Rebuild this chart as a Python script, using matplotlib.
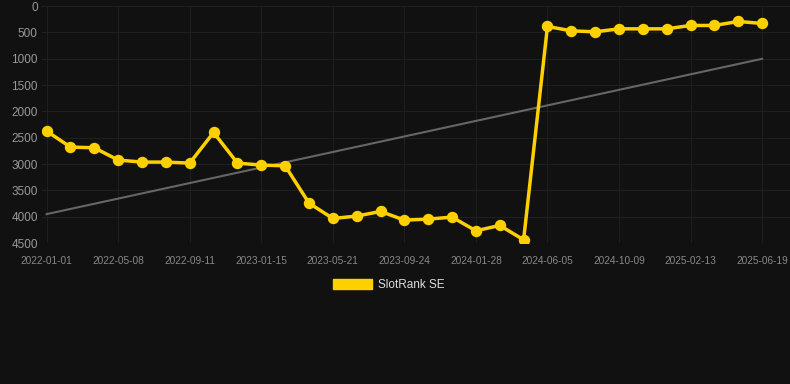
#SlotRank SE ranking over time
import numpy as np
import matplotlib.pyplot as plt
from matplotlib.patches import Patch

plt.rcParams['font.family'] = ['Liberation Sans', 'DejaVu Sans']

#ranking values (one point roughly every 6 weeks)
rank = [2374, 2677, 2690, 2924, 2962, 2962, 2981, 2399, 2981, 3019, 3032,
        3741, 4032, 3988, 3899, 4064, 4045, 4007, 4267, 4165, 4438,
        386, 469, 488, 431, 431, 431, 367, 367, 291, 329]

#grey trend line values at first and last point
trend = [3950, 1000]

#x tick labels, shown on every 3rd point
tick_labels = ['2022-01-01', '2022-05-08', '2022-09-11', '2023-01-15', '2023-05-21',
               '2023-09-24', '2024-01-28', '2024-06-05', '2024-10-09', '2025-02-13',
               '2025-06-19']

bg = '#111111'
fig = plt.figure(figsize=(7.9, 3.84), dpi=100, facecolor=bg)
ax = fig.add_axes([0.053, 0.367, 0.947, 0.617], facecolor=bg)

x = np.arange(len(rank))
ax.plot([x[0], x[-1]], trend, color='#666666', lw=1.5, zorder=2)
ax.plot(x, rank, color='#FFD000', lw=2.5, marker='o', markersize=7.2, zorder=3)

ax.set_xlim(-0.2, 31.17)
ax.set_ylim(4500, 0)
ax.set_yticks(np.arange(0, 4501, 500))
ax.set_xticks(x[::3])
ax.set_xticklabels(tick_labels)

ax.grid(True, color='#1f1f1f', lw=0.8)
ax.set_axisbelow(True)
for s in ax.spines.values():
    s.set_visible(False)
ax.tick_params(axis='x', colors='#888888', labelsize=7.3, length=0, pad=9)
ax.tick_params(axis='y', colors='#999999', labelsize=8.5, length=0, pad=3)

handle = Patch(facecolor='#FFD000', edgecolor='#FFD000', label='SlotRank SE')
leg = fig.legend(handles=[handle], loc='center', bbox_to_anchor=(0.492, 0.258),
                 frameon=False, fontsize=8.5, handlelength=3.3, handleheight=0.9,
                 handletextpad=0.5)
for t in leg.get_texts():
    t.set_color('#dddddd')

fig.savefig('out.png', dpi=100, facecolor=bg)
